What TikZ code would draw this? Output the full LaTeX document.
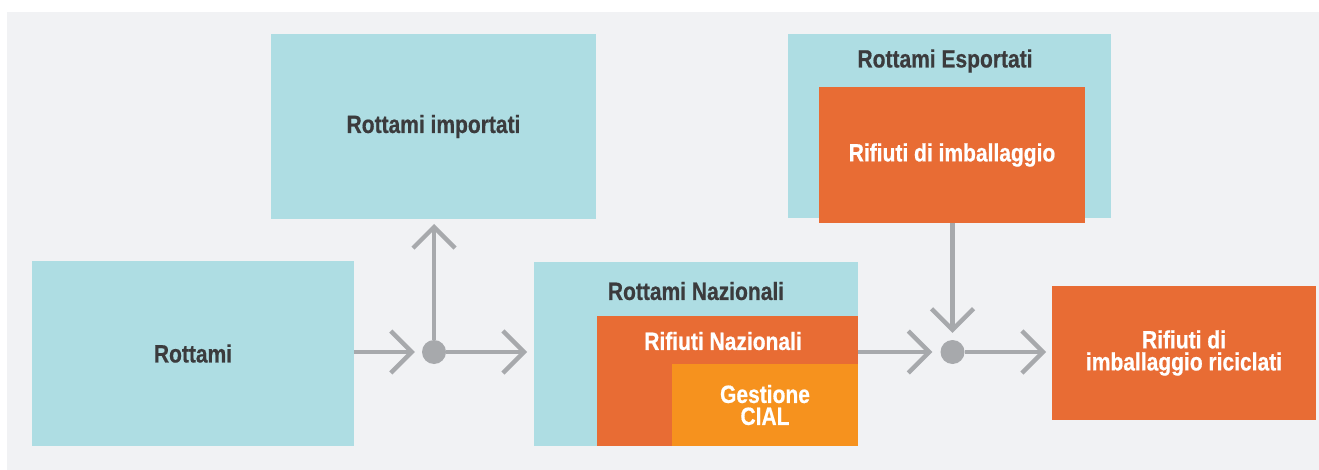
\documentclass[tikz,border=0pt]{standalone}
\usepackage{fontspec}
\setmainfont{Liberation Sans}[FakeStretch=0.84, BoldFeatures={FakeBold=0.6}]
\usetikzlibrary{arrows.meta}
\definecolor{bgc}{HTML}{F1F2F4}
\definecolor{lblue}{HTML}{AEDDE3}
\definecolor{orng}{HTML}{E86C34}
\definecolor{gold}{HTML}{F6921E}
\definecolor{arrc}{HTML}{A7A9AC}
\definecolor{txt}{HTML}{3B3B3D}
\pgfdeclarelayer{bottom}
\pgfdeclarelayer{lines}
\pgfsetlayers{bottom,lines,main}
\tikzset{
  box/.style={draw=none, inner sep=0pt, outer sep=0pt, anchor=north west, align=center,
    font=\fontsize{25}{22}\selectfont\bfseries},
  bluebox/.style={box, fill=lblue, text=txt},
  orbox/.style={box, fill=orng, text=white},
  goldbox/.style={box, fill=gold, text=white},
  lbl/.style={inner sep=0pt, align=center, font=\fontsize{25}{22}\selectfont\bfseries, text=txt},
  wlbl/.style={lbl, text=white},
  junction/.style={circle, fill=arrc, minimum size=24pt, inner sep=0pt},
  conn/.style={draw=arrc, line width=4.3pt, -{Straight Barb[length=21pt,width=42pt]}},
}
\begin{document}
\begin{tikzpicture}[x=1pt,y=-1pt]
\useasboundingbox (0,0) rectangle (1319,470);
\begin{pgfonlayer}{bottom}
\fill[white] (0,0) rectangle (1319,470);
\fill[bgc] (7,12) rectangle (1319,470);
\end{pgfonlayer}

% boxes
\node[bluebox, minimum width=322pt, minimum height=185pt] (rottami) at (32,261) {Rottami};
\node[bluebox, minimum width=325pt, minimum height=185pt] (rimp) at (271,34) {Rottami importati};
\node[bluebox, minimum width=323pt, minimum height=184pt] (resp) at (788,34) {};
\node[orbox, minimum width=266pt, minimum height=136pt] (rifimb) at (819,87) {Rifiuti di imballaggio};
\node[bluebox, minimum width=324pt, minimum height=184pt] (rnaz) at (534,262) {};
\node[orbox, minimum width=261pt, minimum height=130pt] (rifnaz) at (597,316) {};
\node[goldbox, minimum width=186pt, minimum height=82pt] (cial) at (672,364) {Gestione\\CIAL};
\node[orbox, minimum width=264pt, minimum height=134pt] (ricic) at (1052,286) {Rifiuti di\\imballaggio riciclati};

% labels placed at the top of boxes
\node[lbl] (tresp) at (945,61) {Rottami Esportati};
\node[lbl] (trnaz) at (696,291) {Rottami Nazionali};
\node[wlbl] (trifnaz) at (723,341) {Rifiuti Nazionali};

% junctions
\node[junction] (j1) at (434,352) {};
\node[junction] (j2) at (952.5,352) {};

% connectors
\begin{pgfonlayer}{lines}
\draw[conn, shorten >=7pt] (rottami.east |- j1) -- (j1.west);
\draw[conn, shorten >=7pt] (j1.east) -- (rnaz.west |- j1);
\draw[conn, shorten >=5pt] (j1.north) -- (rimp.south -| j1);
\draw[conn, shorten >=8pt] (rifnaz.east |- j2) -- (j2.west);
\draw[conn, shorten >=6pt] (j2.east) -- (ricic.west |- j2);
\draw[conn, shorten >=7pt] (rifimb.south -| j2) -- (j2.north);
\end{pgfonlayer}
\end{tikzpicture}
\end{document}
